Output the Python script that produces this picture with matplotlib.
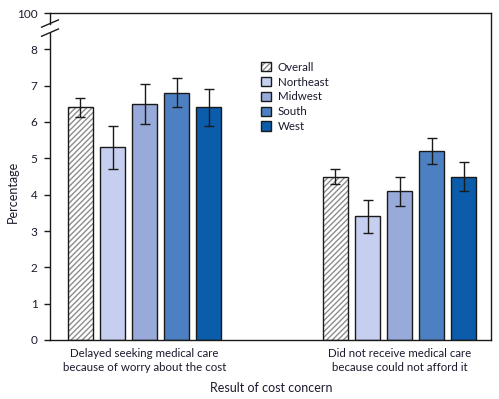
import matplotlib
matplotlib.use("Agg")
import matplotlib.pyplot as plt
import numpy as np

plt.rcParams['font.family'] = ['Lato', 'DejaVu Sans']

groups = ["Delayed seeking medical care\nbecause of worry about the cost",
          "Did not receive medical care\nbecause could not afford it"]
regions = ["Overall", "Northeast", "Midwest", "South", "West"]
values = {
    "Overall":   [6.4, 4.5],
    "Northeast": [5.3, 3.4],
    "Midwest":   [6.5, 4.1],
    "South":     [6.8, 5.2],
    "West":      [6.4, 4.5],
}
ci_low = {
    "Overall":   [6.15, 4.3],
    "Northeast": [4.7, 2.95],
    "Midwest":   [5.95, 3.7],
    "South":     [6.4, 4.85],
    "West":      [5.9, 4.1],
}
ci_high = {
    "Overall":   [6.65, 4.7],
    "Northeast": [5.9, 3.85],
    "Midwest":   [7.05, 4.5],
    "South":     [7.2, 5.55],
    "West":      [6.9, 4.9],
}
colors = {"Overall": "white", "Northeast": "#c6cfef", "Midwest": "#98aada",
          "South": "#4d80c3", "West": "#0b5dab"}
ytick_vals = [0, 1, 2, 3, 4, 5, 6, 7, 8, 9]
ytick_labels = ["0", "1", "2", "3", "4", "5", "6", "7", "8", "100"]

fig = plt.figure(figsize=(4.99, 3.99), dpi=100)
ax = fig.add_axes([50/499, 59/399, 441/499, 327/399])

x = np.arange(len(groups))
width = 0.098
step = 0.1255
text_color = "#1a1a2e"

for i, r in enumerate(regions):
    pos = x + (i - 2) * step
    v = np.array(values[r])
    lo = v - np.array(ci_low[r])
    hi = np.array(ci_high[r]) - v
    kw = dict(color=colors[r], edgecolor="#1a1a1a", linewidth=1.0, label=r)
    if r == "Overall":
        kw["hatch"] = "//////"
    bars = ax.bar(pos, v, width, **kw)
    if r == "Overall":
        for b in bars:
            b._hatch_color = (0.55, 0.55, 0.55, 1.0)
    ax.errorbar(pos, v, yerr=[lo, hi], fmt="none", ecolor="#1a1a1a",
                elinewidth=1.0, capsize=3.3, capthick=1.0)

ax.set_xlim(-0.3706, 1.3588)
ax.set_ylim(0, 9)
ax.set_yticks(ytick_vals)
ax.set_yticklabels(ytick_labels, fontsize=8.5, color=text_color)
ax.set_xticks(x)
ax.set_xticklabels(groups, fontsize=8.3, color=text_color, linespacing=1.3)
ax.tick_params(axis="x", length=0, pad=6)
ax.tick_params(axis="y", length=4, width=1.0, color="#1a1a1a", pad=5)

for s in ["top", "right", "bottom"]:
    ax.spines[s].set_linewidth(1.0)
    ax.spines[s].set_color("#1a1a1a")
ax.spines["left"].set_visible(False)

# broken left axis
lc = "#1a1a1a"
ax.plot([-0.3706, -0.3706], [0, 8.45], color=lc, lw=1.0, clip_on=False, zorder=5)
ax.plot([-0.3706, -0.3706], [8.7, 9], color=lc, lw=1.0, clip_on=False, zorder=5)
dx = 0.033
ax.plot([-0.3706 - dx, -0.3706 + dx], [8.36, 8.56], color=lc, lw=1.0, clip_on=False, zorder=5)
ax.plot([-0.3706 - dx, -0.3706 + dx], [8.61, 8.81], color=lc, lw=1.0, clip_on=False, zorder=5)

fig.text(13/499, 1 - 192/399, "Percentage", rotation=90, ha="center", va="center",
         fontsize=9, color=text_color)
fig.text(271/499, 1 - 388/399, "Result of cost concern", ha="center", va="center",
         fontsize=9, color=text_color)

leg = ax.legend(loc="upper left", bbox_to_anchor=(0.468, 0.865), frameon=False,
                fontsize=8.3, handlelength=0.85, handleheight=0.85, handletextpad=0.6,
                labelspacing=0.33, borderaxespad=0)
for t in leg.get_texts():
    t.set_color(text_color)

fig.savefig("out.png", dpi=100)
